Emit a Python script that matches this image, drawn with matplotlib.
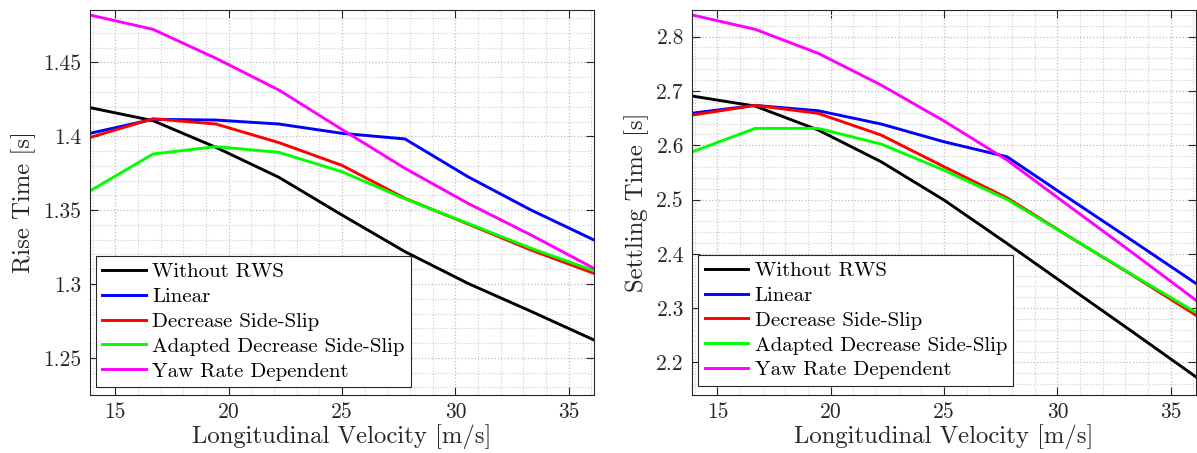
import matplotlib
matplotlib.use("Agg")
import matplotlib.pyplot as plt
from matplotlib.ticker import MultipleLocator

plt.rcParams['font.family'] = ['cmr10', 'DejaVu Serif']
plt.rcParams['axes.formatter.use_mathtext'] = True

velocity = [13.889, 16.667, 19.444, 22.222, 25.0, 27.778, 30.556, 33.333, 36.111]
labels = ["Without RWS", "Linear", "Decrease Side-Slip",
          "Adapted Decrease Side-Slip", "Yaw Rate Dependent"]
colors = ["#000000", "#0000ff", "#ff0000", "#00ff00", "#ff00ff"]

rise_without = [1.4194, 1.4106, 1.3925, 1.3722, 1.3467, 1.3219, 1.3004, 1.2815, 1.2621]
rise_linear = [1.4020, 1.4115, 1.4110, 1.4083, 1.4020, 1.3982, 1.3726, 1.3501, 1.3298]
rise_decrease = [1.3992, 1.4119, 1.4083, 1.3957, 1.3803, 1.3580, 1.3406, 1.3230, 1.3072]
rise_adapted = [1.3630, 1.3880, 1.3930, 1.3891, 1.3760, 1.3577, 1.3410, 1.3242, 1.3090]
rise_yaw = [1.4821, 1.4724, 1.4528, 1.4313, 1.4046, 1.3783, 1.3546, 1.3332, 1.3106]

settle_without = [2.6905, 2.6720, 2.6280, 2.5695, 2.4989, 2.4190, 2.3373, 2.2557, 2.1734]
settle_linear = [2.6590, 2.6734, 2.6635, 2.6390, 2.6063, 2.5787, 2.5008, 2.4235, 2.3454]
settle_decrease = [2.6555, 2.6734, 2.6586, 2.6187, 2.5603, 2.5030, 2.4307, 2.3600, 2.2870]
settle_adapted = [2.5879, 2.6310, 2.6310, 2.6021, 2.5540, 2.5002, 2.4307, 2.3607, 2.2920]
settle_yaw = [2.8398, 2.8134, 2.7692, 2.7108, 2.6445, 2.5726, 2.4866, 2.4013, 2.3146]

rise_series = [rise_without, rise_linear, rise_decrease, rise_adapted, rise_yaw]
settle_series = [settle_without, settle_linear, settle_decrease, settle_adapted, settle_yaw]

x_ticks = [15, 20, 25, 30, 35]
rise_ticks = [1.25, 1.3, 1.35, 1.4, 1.45]
rise_ticklabels = ["1.25", "1.3", "1.35", "1.4", "1.45"]
settle_ticks = [2.2, 2.3, 2.4, 2.5, 2.6, 2.7, 2.8]
settle_ticklabels = ["2.2", "2.3", "2.4", "2.5", "2.6", "2.7", "2.8"]

W, H = 1197, 453
fig = plt.figure(figsize=(W / 100, H / 100), dpi=100)

def make_ax(left_px, right_px, top_px, bottom_px):
    return fig.add_axes([left_px / W, 1 - bottom_px / H,
                         (right_px - left_px) / W, (bottom_px - top_px) / H])

ax1 = make_ax(90, 594, 10, 394.5)
ax2 = make_ax(692.3, 1196, 10, 394.5)

def style(ax, series, ylim, yticks, yticklabels, ylabel, yminor, legend_anchor):
    for vals, lab, col in zip(series, labels, colors):
        ax.plot(velocity, vals, color=col, lw=2.1, label=lab, solid_joinstyle='miter')
    ax.set_xlim(velocity[0], velocity[-1])
    ax.set_ylim(*ylim)
    ax.set_xticks(x_ticks)
    ax.set_xticklabels([str(t) for t in x_ticks])
    ax.set_yticks(yticks)
    ax.set_yticklabels(yticklabels)
    ax.xaxis.set_minor_locator(MultipleLocator(1))
    ax.yaxis.set_minor_locator(MultipleLocator(yminor))
    ax.grid(which='major', color='#bdbdbd', linestyle=':', linewidth=0.9)
    ax.grid(which='minor', color='#cdcdcd', linestyle=':', linewidth=0.8)
    ax.set_axisbelow(True)
    ax.tick_params(which='major', direction='in', length=6, width=0.8,
                   top=True, right=True, labelsize=15.5, colors='#262626', pad=6)
    ax.tick_params(which='minor', length=0, top=True, right=True)
    for s in ax.spines.values():
        s.set_color('#262626')
        s.set_linewidth(0.8)
    ax.set_xlabel("Longitudinal Velocity [m/s]", fontsize=17.8, color='#262626', labelpad=1)
    ax.set_ylabel(ylabel, fontsize=17.8, color='#262626', labelpad=5)
    leg = ax.legend(loc='lower left', bbox_to_anchor=legend_anchor, borderaxespad=0,
                    fontsize=15, frameon=True, fancybox=False, framealpha=1,
                    edgecolor='#262626', handlelength=2.1, handletextpad=0.3,
                    labelspacing=0.3, borderpad=0.3)
    leg.get_frame().set_linewidth(0.8)

style(ax1, rise_series, (1.2252, 1.4855), rise_ticks, rise_ticklabels,
      "Rise Time [s]", 0.01, (0.012, 0.02))
style(ax2, settle_series, (2.141, 2.849), settle_ticks, settle_ticklabels,
      "Settling Time [s]", 0.02, (0.012, 0.023))

fig.savefig("out.png", dpi=100)
